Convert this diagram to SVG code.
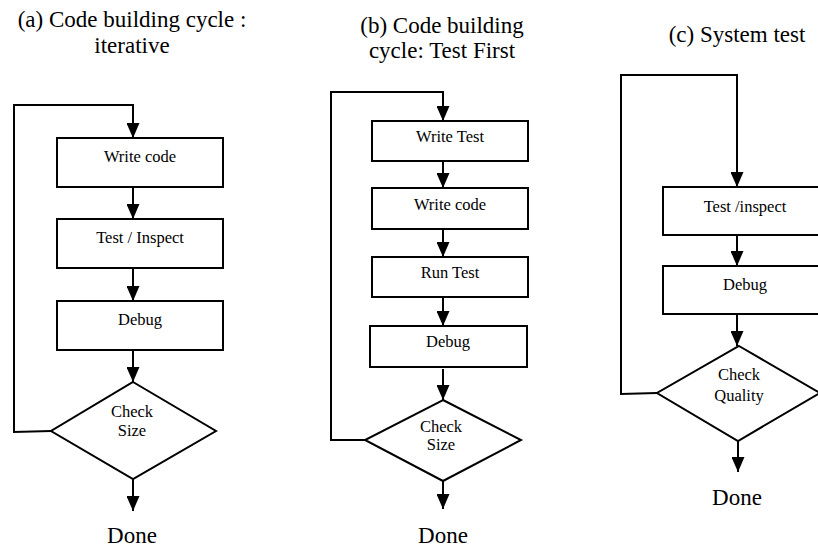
<svg xmlns="http://www.w3.org/2000/svg" width="818" height="547" viewBox="0 0 818 547">
<defs>
<marker id="arr" markerUnits="userSpaceOnUse" viewBox="0 0 15 13" refX="15" refY="6.5" markerWidth="15" markerHeight="13" orient="auto">
<path d="M0,0 L15,6.5 L0,13 z" fill="#000"/>
</marker>
<style>
.box{fill:#fff;stroke:#000;stroke-width:2}
.con{fill:none;stroke:#000;stroke-width:2;marker-end:url(#arr)}
text{font-family:'Liberation Serif','DejaVu Serif',serif;text-anchor:middle;fill:#000}
.t{font-size:16.5px}
.h{font-size:23px}
</style>
</defs>
<rect width="818" height="547" fill="#fff"/>
<g id="titles" font-family="Liberation Serif, DejaVu Serif, serif">
<text class="h" x="132" y="27">(a) Code building cycle :</text>
<text class="h" x="132" y="53">iterative</text>
<text class="h" x="442" y="33">(b) Code building</text>
<text class="h" x="442" y="58">cycle: Test First</text>
<text class="h" x="737" y="42">(c) System test</text>
</g>
<g id="connectors">
<path class="con" d="M51,431 L14,432 L14,105 L133,105 L133,138"/>
<path class="con" d="M133,187 L133,219"/>
<path class="con" d="M133,268 L133,301"/>
<path class="con" d="M133,350 L133,382"/>
<path class="con" d="M133,479 L133,511"/>
<path class="con" d="M365,440 L331,440 L331,92 L443,92 L443,121"/>
<path class="con" d="M443,161 L443,188"/>
<path class="con" d="M443,229 L443,257"/>
<path class="con" d="M443,297 L443,326"/>
<path class="con" d="M443,369 L443,400"/>
<path class="con" d="M443,481 L443,509"/>
<path class="con" d="M657,393 L621,394 L621,75 L737,75 L737,187"/>
<path class="con" d="M737,235 L737,266"/>
<path class="con" d="M737,314 L737,346"/>
<path class="con" d="M738,441 L738,472"/>
</g>
<g id="a-write-code"><rect class="box" x="57" y="138" width="166" height="49"/><text class="t" x="140" y="162">Write code</text></g>
<g id="a-test-inspect"><rect class="box" x="57" y="219" width="166" height="49"/><text class="t" x="140" y="243">Test / Inspect</text></g>
<g id="a-debug"><rect class="box" x="57" y="301" width="166" height="49"/><text class="t" x="140" y="325">Debug</text></g>
<g id="a-check-size"><polygon class="box" points="133,382 216,431 133,479 51,431"/><text class="t" x="132" y="417">Check</text><text class="t" x="132" y="436">Size</text></g>
<g id="a-done"><text class="h" x="132" y="543">Done</text></g>
<g id="b-write-test"><rect class="box" x="372" y="121" width="156" height="40"/><text class="t" x="450" y="142">Write Test</text></g>
<g id="b-write-code"><rect class="box" x="372" y="188" width="156" height="41"/><text class="t" x="450" y="210">Write code</text></g>
<g id="b-run-test"><rect class="box" x="372" y="257" width="156" height="40"/><text class="t" x="450" y="278">Run Test</text></g>
<g id="b-debug"><rect class="box" x="370" y="326" width="157" height="41"/><text class="t" x="448" y="347">Debug</text></g>
<g id="b-check-size"><polygon class="box" points="443,400 521,440 443,481 365,440"/><text class="t" x="441" y="432">Check</text><text class="t" x="441" y="450">Size</text></g>
<g id="b-done"><text class="h" x="443" y="543">Done</text></g>
<g id="c-test-inspect"><rect class="box" x="663" y="187" width="164" height="48"/><text class="t" x="745" y="212">Test /inspect</text></g>
<g id="c-debug"><rect class="box" x="663" y="266" width="164" height="48"/><text class="t" x="745" y="290">Debug</text></g>
<g id="c-check-quality"><polygon class="box" points="739,346 820,393 738,441 657,393"/><text class="t" x="739" y="380">Check</text><text class="t" x="739" y="401">Quality</text></g>
<g id="c-done"><text class="h" x="737" y="505">Done</text></g>
</svg>
